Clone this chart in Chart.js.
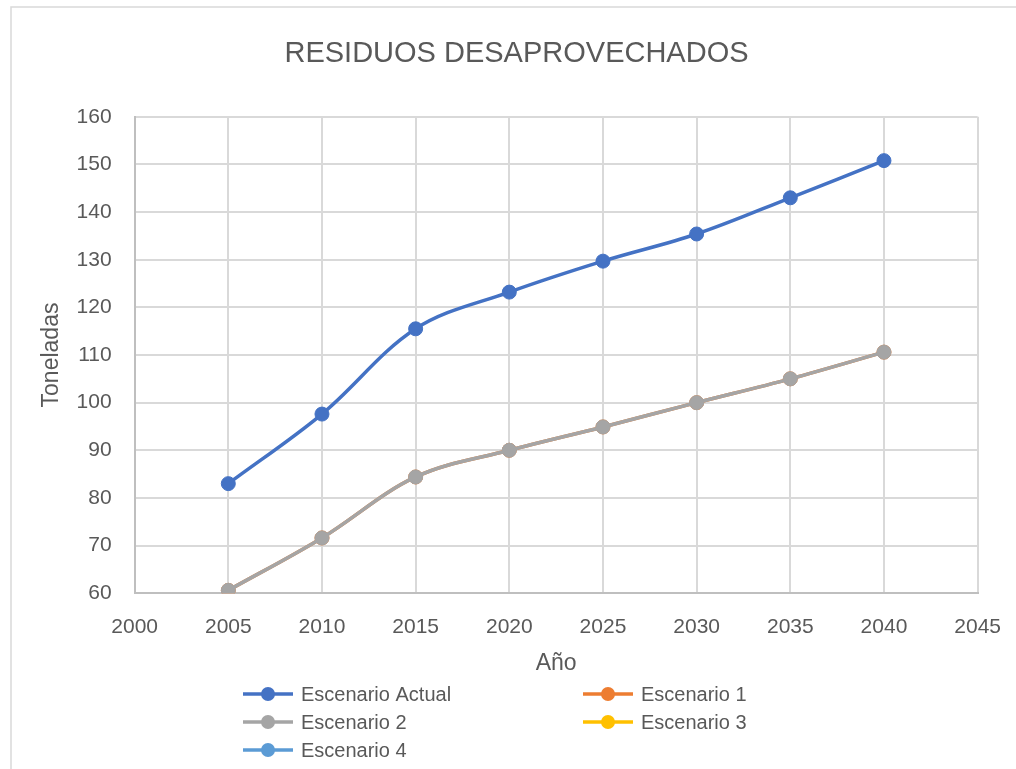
<!DOCTYPE html>
<html>
<head>
<meta charset="utf-8">
<script src="https://cdn.jsdelivr.net/npm/chart.js@4.4.1/dist/chart.umd.min.js"></script>
<style>
  html, body { margin: 0; padding: 0; background: #fff; }
  #wrap { width: 1016px; height: 769px; }
</style>
</head>
<body>
<div id="wrap"><canvas id="chart1" width="1016" height="769"></canvas></div>
<script>
const years = [2005, 2010, 2015, 2020, 2025, 2030, 2035, 2040];
const actualValues = [83, 97.6, 115.5, 123.2, 129.7, 135.4, 143, 150.8];
const esc1Values = [60.6, 71.6, 84.4, 90, 94.9, 100, 105, 110.6];
const esc2Values = [60.6, 71.6, 84.4, 90, 94.9, 100, 105, 110.6];
const esc3Values = [];
const esc4Values = [];
const seriesNames = ['Escenario Actual', 'Escenario 1', 'Escenario 2', 'Escenario 3', 'Escenario 4'];
const seriesColors = ['#4472C4', '#ED7D31', '#A5A5A5', '#FFC000', '#5B9BD5'];

const textColor = '#595959';
const fontFamily = "'Liberation Sans', Arial, sans-serif";

function toPoints(values) {
    return values.map((v, i) => ({ x: years[i], y: v }));
}

function makeDataset(idx, values, order) {
    return {
        label: seriesNames[idx],
        data: toPoints(values),
        borderColor: seriesColors[idx],
        backgroundColor: seriesColors[idx],
        pointBackgroundColor: seriesColors[idx],
        pointBorderColor: seriesColors[idx],
        pointRadius: 7,
        pointBorderWidth: 1,
        borderWidth: 3.5,
        tension: 0.35,
        fill: false,
        order: order
    };
}

// frame + white background
const framePlugin = {
    id: 'frame',
    beforeDraw(chart) {
        const ctx = chart.ctx;
        ctx.save();
        ctx.fillStyle = '#fff';
        ctx.fillRect(0, 0, chart.width, chart.height);
        ctx.strokeStyle = '#d9d9d9';
        ctx.lineWidth = 1.5;
        ctx.strokeRect(11, 7, 1100, 1000);
        ctx.restore();
    }
};

// two-column legend under the chart, like Excel
const legendPlugin = {
    id: 'excelLegend',
    afterDraw(chart) {
        const ctx = chart.ctx;
        const cols = [243, 583];
        const rows = [694, 722, 750];
        ctx.save();
        ctx.font = '20px ' + fontFamily;
        ctx.textBaseline = 'middle';
        seriesNames.forEach((name, i) => {
            const x = cols[i % 2];
            const y = rows[Math.floor(i / 2)];
            const color = seriesColors[i];
            ctx.strokeStyle = color;
            ctx.lineWidth = 3.5;
            ctx.beginPath();
            ctx.moveTo(x, y);
            ctx.lineTo(x + 50, y);
            ctx.stroke();
            ctx.fillStyle = color;
            ctx.beginPath();
            ctx.arc(x + 25, y, 7, 0, Math.PI * 2);
            ctx.fill();
            ctx.fillStyle = textColor;
            ctx.fillText(name, x + 58, y + 1);
        });
        ctx.restore();
    }
};

const ctx = document.getElementById('chart1').getContext('2d');
new Chart(ctx, {
    type: 'line',
    data: {
        datasets: [
            makeDataset(0, actualValues, 1),
            makeDataset(1, esc1Values, 3),
            makeDataset(2, esc2Values, 2),
            makeDataset(3, esc3Values, 0),
            makeDataset(4, esc4Values, 0)
        ]
    },
    options: {
        responsive: false,
        animation: false,
        layout: {
            padding: { left: 33, right: 16, top: 37, bottom: 92 }
        },
        plugins: {
            legend: { display: false },
            tooltip: { enabled: false },
            title: {
                display: true,
                text: 'RESIDUOS DESAPROVECHADOS',
                color: textColor,
                font: { family: fontFamily, size: 29, weight: 'normal' },
                padding: { top: 0, bottom: 45 }
            }
        },
        scales: {
            x: {
                type: 'linear',
                min: 2000,
                max: 2045,
                ticks: {
                    stepSize: 5,
                    color: textColor,
                    padding: 15,
                    font: { family: fontFamily, size: 21 },
                    callback: v => String(v)
                },
                grid: { color: '#d9d9d9', lineWidth: 2, drawTicks: true, tickLength: 6, tickColor: 'rgba(0,0,0,0)' },
                border: { color: '#bfbfbf', width: 2 },
                title: {
                    display: true,
                    text: 'Año',
                    color: textColor,
                    font: { family: fontFamily, size: 23 },
                    padding: { top: -5, bottom: 0 }
                }
            },
            y: {
                min: 60,
                max: 160,
                ticks: {
                    stepSize: 10,
                    color: textColor,
                    padding: 23,
                    font: { family: fontFamily, size: 21 }
                },
                grid: { color: '#d9d9d9', lineWidth: 2, drawTicks: false },
                border: { color: '#bfbfbf', width: 2 },
                title: {
                    display: true,
                    text: 'Toneladas',
                    color: textColor,
                    font: { family: fontFamily, size: 23 },
                    padding: { top: 5, bottom: -12 }
                }
            }
        }
    },
    plugins: [framePlugin, legendPlugin]
});
</script>
</body>
</html>
